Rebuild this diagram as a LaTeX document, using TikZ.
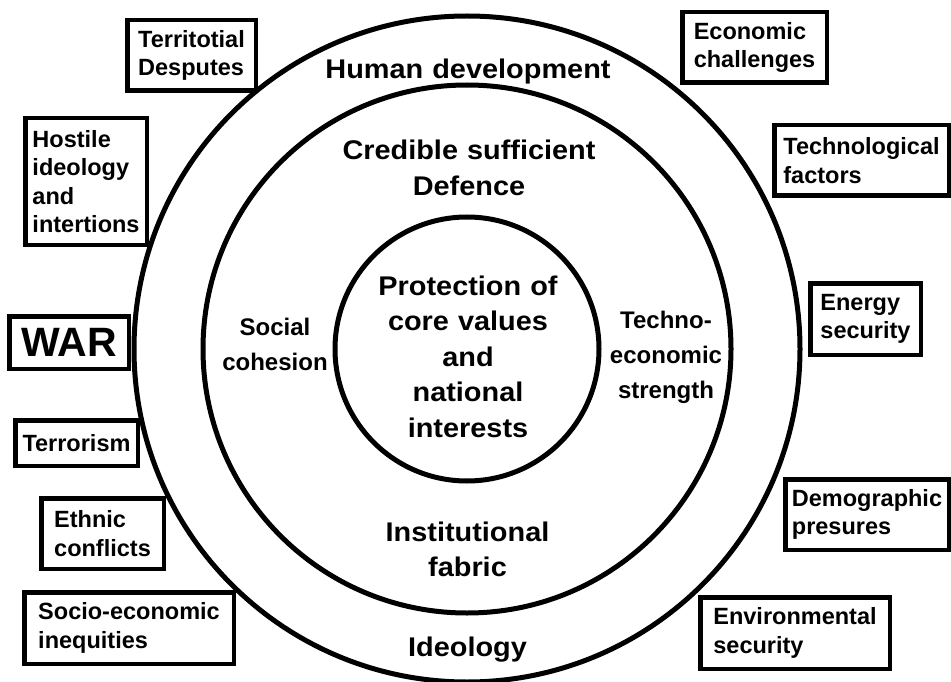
\documentclass[tikz,border=0pt]{standalone}
\usepackage{fontspec}
\setmainfont{Liberation Sans}
\newfontfamily\bigsans[FakeStretch=1.07]{Liberation Sans}
\begin{document}
\begin{tikzpicture}[x=1pt,y=-1pt,
  ring/.style={draw, circle, line width=5pt, inner sep=0pt},
  threat/.style={draw, line width=4.5pt, fill=white, rectangle, inner sep=0pt, align=left,
    font=\fontsize{23.5}{28.5}\selectfont\bfseries},
  biglabel/.style={anchor=base, align=center, text width=340pt, inner sep=0pt,
    font=\bigsans\fontsize{27}{35.5}\selectfont\bfseries},
  midlabel/.style={anchor=base, align=center, text width=150pt, inner sep=0pt,
    font=\fontsize{24}{35}\selectfont\bfseries}]
\useasboundingbox (0,0) rectangle (951,682);
\fill[white] (0,0) rectangle (951,682);
\begin{scope}
\clip (0,0) rectangle (951,682);
\node[ring, minimum size=666pt] (outer) at (467,349) {};
\node[ring, minimum size=528pt] (middle) at (467,349) {};
\node[ring, minimum size=264pt] (inner) at (467,349) {};

\node[threat, minimum width=128.5pt, minimum height=70.5pt] (terr) at (191.5,55.5) {Territotial\\Desputes};
\node[threat, minimum width=121.5pt, minimum height=126.5pt] (host) at (86,181.5) {Hostile\\ideology\\and\\intertions};
\node[threat, minimum width=119.5pt, minimum height=52.5pt, font=\fontsize{41}{45}\selectfont\bfseries] (war) at (69,342.5) {WAR};
\node[threat, minimum width=122.5pt, minimum height=45.5pt] (terror) at (76.5,443) {Terrorism};
\node[threat, minimum width=122.5pt, minimum height=70.5pt] (ethnic) at (102.5,533.5) {Ethnic\\conflicts};
\node[threat, minimum width=209.5pt, minimum height=71.5pt] (socio) at (129,628) {Socio-economic\\inequities};
\node[threat, minimum width=144.5pt, minimum height=70.5pt] (econ) at (754.5,47.5) {Economic\\challenges};
\node[threat, minimum width=174.5pt, minimum height=70.5pt] (tech) at (861.5,160.5) {Technological\\factors};
\node[threat, minimum width=110.5pt, minimum height=71.5pt] (energy) at (865.5,319) {Energy\\security};
\node[threat, minimum width=163.5pt, minimum height=70.5pt] (demo) at (867,514.5) {Demographic\\presures};
\node[threat, minimum width=189.5pt, minimum height=71.5pt] (env) at (795,633) {Environmental\\security};

\node[biglabel] (hd) at (468,79) {Human development};
\node[biglabel] (csd) at (469,160) {Credible sufficient\\Defence};
\node[biglabel, text width=240pt] (core) at (468,295) {Protection of\\core values\\and\\national\\interests};
\node[midlabel] (soc) at (275,335) {Social\\cohesion};
\node[midlabel] (techeco) at (666,328) {Techno-\\economic\\strength};
\node[biglabel] (inst) at (467.5,541) {Institutional\\fabric};
\node[biglabel] (ideo) at (467.5,656) {Ideology};
\end{scope}
\end{tikzpicture}
\end{document}
